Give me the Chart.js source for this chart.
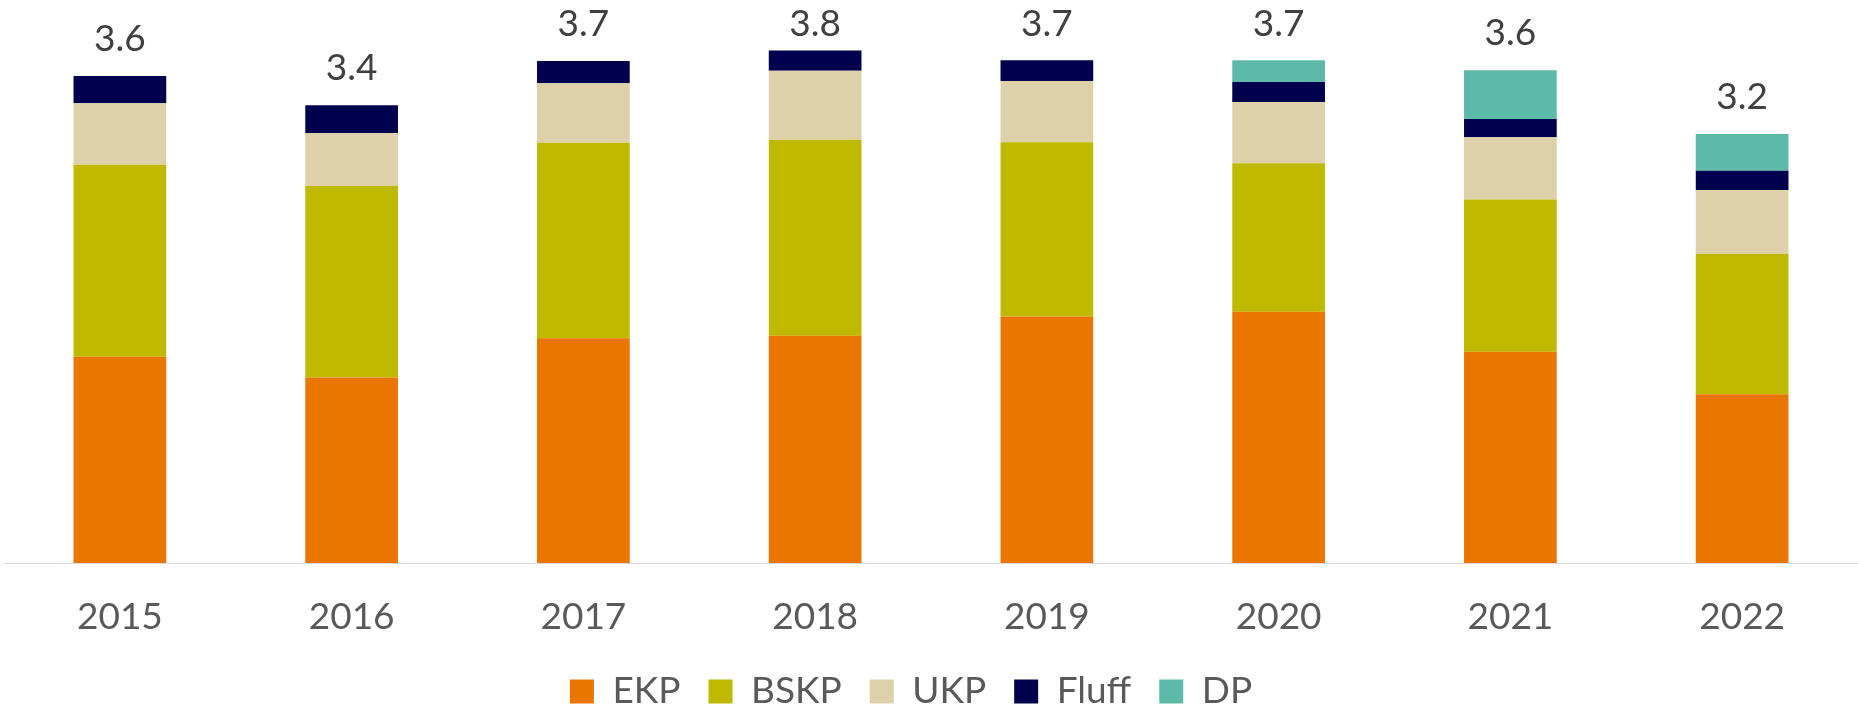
<!DOCTYPE html>
<html>
<head>
<meta charset="utf-8">
<title>EKP / BSKP / UKP / Fluff / DP</title>
<script src="https://cdn.jsdelivr.net/npm/chart.js@4.4.1/dist/chart.umd.min.js"></script>
<style>
  html, body { margin: 0; padding: 0; background: #fff; }
  #wrap { position: relative; width: 1858px; height: 720px; }
</style>
</head>
<body>
<div id="wrap"><canvas id="chStack"></canvas></div>
<script>
/* Stacked bars per year with the total printed above each bar. */
var YEARS = ["2015", "2016", "2017", "2018", "2019", "2020", "2021", "2022"];
var EKP   = [1.525, 1.372, 1.661, 1.680, 1.823, 1.857, 1.562, 1.247];
var BSKP  = [1.419, 1.416, 1.446, 1.449, 1.288, 1.099, 1.126, 1.039];
var UKP   = [0.456, 0.390, 0.441, 0.510, 0.453, 0.453, 0.460, 0.471];
var FLUFF = [0.200, 0.207, 0.163, 0.151, 0.153, 0.148, 0.135, 0.143];
var DP    = [0, 0, 0, 0, 0, 0.160, 0.360, 0.271];

var ORANGE = "#EA7600", OLIVE = "#BFB900", BEIGE = "#DED0A8",
    NAVY = "#00004E", TEAL = "#5DBAA8", INK = "#404040", MUTED = "#595959";
var FONT = "Lato, 'Open Sans', sans-serif";

Chart.defaults.font.family = FONT;
Chart.defaults.font.size = 37;
Chart.defaults.color = MUTED;

// totals above each stack (kept inside the canvas, like the original)
var totalLabels = {
  id: "totalLabels",
  afterDatasetsDraw: function (chart) {
    var ctx = chart.ctx, xs = chart.scales.x, ys = chart.scales.y;
    ctx.save();
    ctx.font = "37px " + FONT;
    ctx.fillStyle = INK;
    ctx.textAlign = "center";
    ctx.textBaseline = "middle";
    YEARS.forEach(function (y, i) {
      var sum = 0;
      chart.data.datasets.forEach(function (ds) { sum += ds.data[i] || 0; });
      var py = Math.max(ys.getPixelForValue(sum) - 37, 24);
      ctx.fillText(sum.toFixed(1), xs.getPixelForValue(i), py);
    });
    ctx.restore();
  }
};

// legend sits a little left of centre in the original
var legendShift = {
  id: "legendShift",
  afterLayout: function (chart) { chart.legend.left -= 20; chart.legend.right -= 20; }
};

function ds(label, data, color) {
  return { label: label, data: data, backgroundColor: color, borderWidth: 0,
           categoryPercentage: 1, barPercentage: 0.4 };
}

new Chart(document.getElementById("chStack"), {
  type: "bar",
  data: {
    labels: YEARS,
    datasets: [
      ds("EKP", EKP, ORANGE),
      ds("BSKP", BSKP, OLIVE),
      ds("UKP", UKP, BEIGE),
      ds("Fluff", FLUFF, NAVY),
      ds("DP", DP, TEAL)
    ]
  },
  options: {
    responsive: true, maintainAspectRatio: false, animation: false,
    layout: { padding: { top: 22, left: 4, right: 0, bottom: 0 } },
    plugins: {
      tooltip: { enabled: false },
      legend: {
        position: "bottom",
        labels: { boxWidth: 24, boxHeight: 24, padding: 28, color: MUTED, font: { size: 37 } }
      }
    },
    scales: {
      x: {
        stacked: true,
        grid: { display: false, drawTicks: false },
        border: { display: true, color: "#D9D9D9", width: 1 },
        ticks: { padding: 32, color: MUTED, font: { size: 37 } },
        afterFit: function (s) { s.height = 82; }
      },
      y: { stacked: true, display: false, min: 0, max: 4 }
    }
  },
  plugins: [totalLabels, legendShift]
});
</script>
</body>
</html>
